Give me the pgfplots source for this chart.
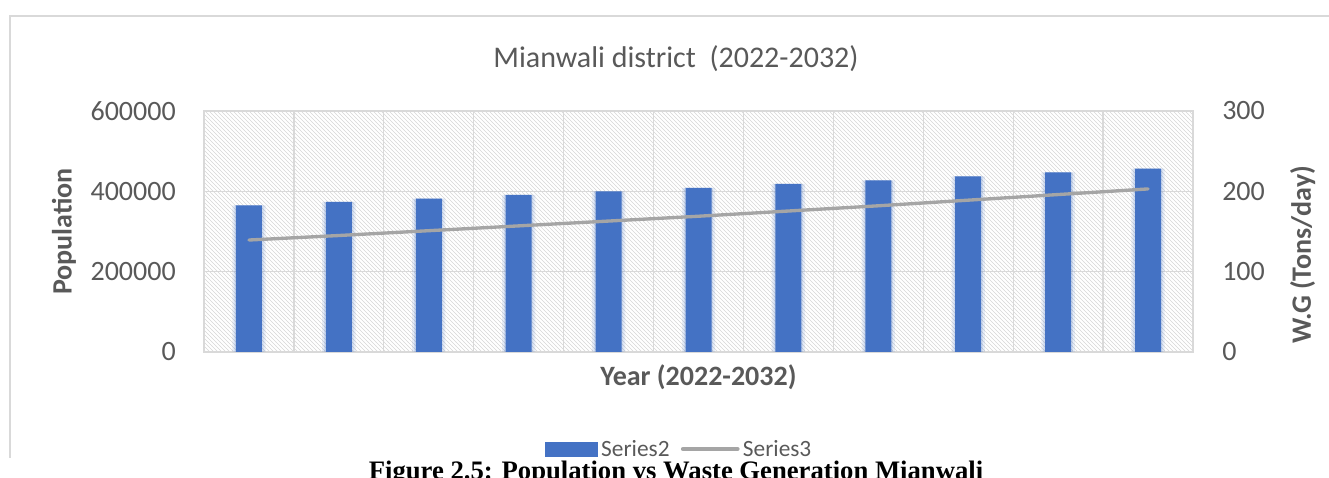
\documentclass[border=0pt]{standalone}
\usepackage{pgfplots}
\pgfplotsset{compat=1.18}
\usepackage{fontspec}
\setmainfont{Carlito}
\newfontfamily\capfont{Liberation Serif}
\usetikzlibrary{patterns}
\definecolor{barblue}{HTML}{4472C4}
\definecolor{linegray}{HTML}{A5A5A5}
\definecolor{gridgray}{HTML}{D9D9D9}
\definecolor{textgray}{HTML}{595959}
\pgfplotstableread{
x pop
0 365300
1 373500
2 381800
3 391000
4 400100
5 408400
6 418300
7 427500
8 437500
9 447400
10 456500
}\poptable
\begin{document}
\begin{tikzpicture}
\path[use as bounding box] (0,0) rectangle (996.75pt,358.5pt);
\draw[gridgray, line width=1.2pt] (7.5pt,15pt) -- (7.5pt,346.5pt) -- (996.75pt,346.5pt);
\node[anchor=base, text=textgray, inner sep=0pt, font=\fontsize{22.5}{26}\selectfont] at (507pt,307.5pt) {Mianwali district\ \ (2022-2032)};
\begin{axis}[
  at={(153pt,94.5pt)}, anchor=south west,
  scale only axis, width=741.75pt, height=180.75pt,
  xmin=-0.5, xmax=10.5, ymin=0, ymax=600000,
  ytick={0,200000,400000,600000},
  yticklabels={0,200000,400000,600000},
  xtick={-0.5,0.5,1.5,2.5,3.5,4.5,5.5,6.5,7.5,8.5,9.5,10.5},
  xticklabel={\hbox{}},
  xmajorgrids, ymajorgrids,
  grid style={gridgray, line width=1pt},
  major tick length=0pt,
  axis line style={gridgray, line width=1pt},
  scaled y ticks=false,
  tick label style={font=\fontsize{21}{25}\selectfont, text=textgray},
  yticklabel style={anchor=east, inner sep=0pt, xshift=-21pt},
  axis background/.style={pattern=north west lines, pattern color=gray!32},
  ylabel={Population},
  ylabel style={at={(axis description cs:-0.1416,0.5)}, anchor=center, font=\fontsize{21}{25}\selectfont\bfseries, text=textgray},
  xlabel={Year (2022-2032)},
  xlabel style={at={(axis description cs:0.5,-0.141)}, anchor=base, font=\fontsize{21}{25}\selectfont\bfseries, text=textgray},
]
\addplot[ybar, bar width=25pt, bar shift=0pt, fill=barblue, fill opacity=0.12, draw=none] table[x=x, y=pop] {\poptable};
\addplot[ybar, bar width=22pt, bar shift=0pt, fill=barblue, fill opacity=0.15, draw=none] table[x=x, y=pop] {\poptable};
\addplot[ybar, bar width=19.5pt, bar shift=0pt, fill=barblue, draw=none] table[x=x, y=pop] {\poptable};
\end{axis}
\begin{axis}[
  at={(153pt,94.5pt)}, anchor=south west,
  scale only axis, width=741.75pt, height=180.75pt,
  xmin=-0.5, xmax=10.5, ymin=0, ymax=300,
  axis y line*=right, axis x line=none,
  ytick={0,100,200,300},
  yticklabels={0,100,200,300},
  major tick length=0pt,
  axis line style={gridgray, line width=1pt},
  tick label style={font=\fontsize{21}{25}\selectfont, text=textgray},
  yticklabel style={anchor=west, inner sep=0pt, xshift=21.75pt},
  ylabel={W.G (Tons/day)},
  ylabel style={at={(axis description cs:1.111,0.4025)}, anchor=center, font=\fontsize{21}{25}\selectfont\bfseries, text=textgray},
  legend style={at={(axis description cs:0.4813,-0.4025)}, anchor=center, draw=none, fill=none,
    font=\fontsize{17.5}{20}\selectfont, text=textgray, inner sep=0pt,
    nodes={inner sep=2.5pt},
    /tikz/every even column/.append style={column sep=6pt}},
  legend columns=-1,
]
\addlegendimage{legend image code/.code={\fill[barblue] (0pt,-5.25pt) rectangle (39pt,5.25pt);}}
\addlegendentry{Series2}
\addplot[linegray, line width=2.5pt, line cap=round, line join=round,
  legend image code/.code={\draw[linegray, line width=3pt] (0pt,0pt) -- (41pt,0pt);}] coordinates {
(0,139.4) (1,145) (2,151) (3,157) (4,163) (5,169)
(6,175.5) (7,182) (8,189) (9,196) (10,203)};
\addlegendentry{Series3}
\end{axis}
\node[anchor=base, inner sep=0pt, font=\capfont\bfseries\fontsize{20}{22}\selectfont] at (507pt,-1.5pt) {Figure 2.5: Population vs Waste Generation Mianwali};
\end{tikzpicture}
\end{document}
